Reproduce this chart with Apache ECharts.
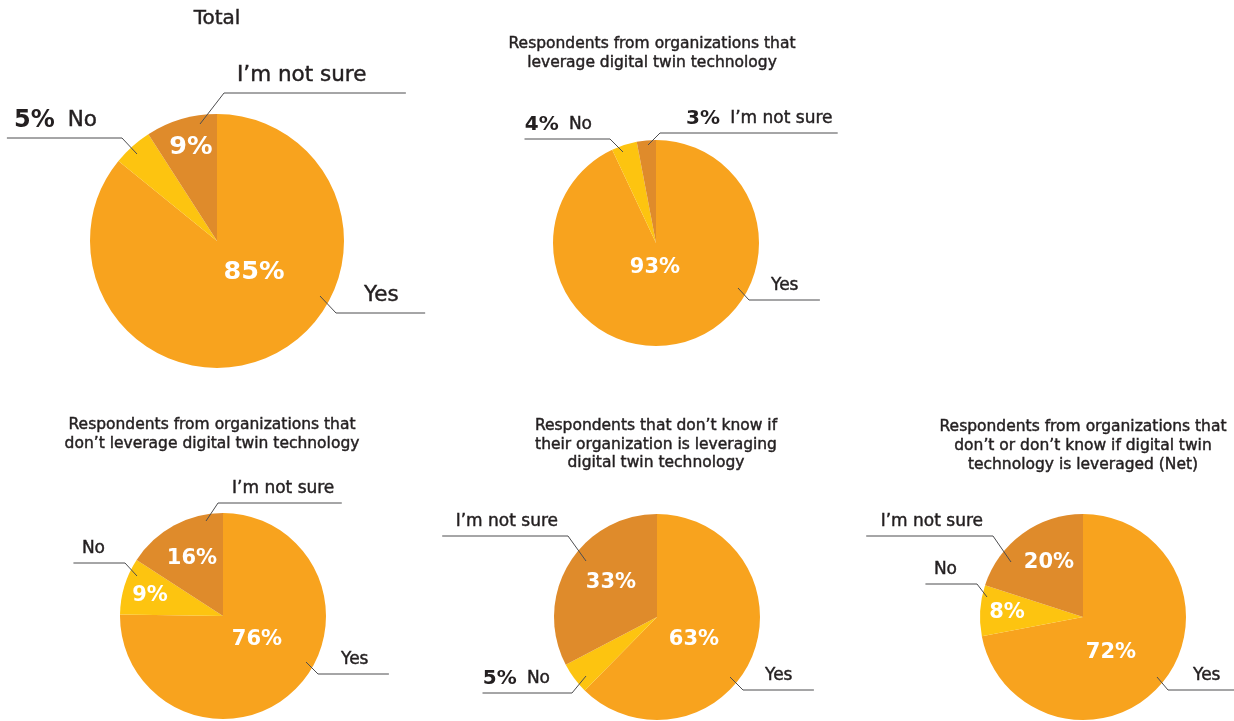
<!DOCTYPE html>
<html><head><meta charset="utf-8">
<script src="https://cdn.jsdelivr.net/npm/echarts@6/dist/echarts.min.js"></script>
<style>html,body{margin:0;padding:0;background:#fff}#c{width:1234px;height:721px}</style>
</head><body><div id="c"></div>
<script>
// ---- data ----
const categories = ['Yes', 'No', 'I’m not sure'];
const panelTitles = [
  'Total',
  'Respondents from organizations that\nleverage digital twin technology',
  'Respondents from organizations that\ndon’t leverage digital twin technology',
  'Respondents that don’t know if\ntheir organization is leveraging\ndigital twin technology',
  'Respondents from organizations that\ndon’t or don’t know if digital twin\ntechnology is leveraged (Net)'
];
const totalValues = [85, 5, 9];
const leverageValues = [93, 4, 3];
const dontLeverageValues = [76, 9, 16];
const dontKnowValues = [63, 5, 33];
const netValues = [72, 8, 20];
const panelValues = [totalValues, leverageValues, dontLeverageValues, dontKnowValues, netValues];

// ---- styles / layout ----
const colors = ['#F8A31E', '#FDC410', '#DF8B2B'];
const FONT = 'DejaVu Sans';
const TEXT = '#231F20';
const LINE = '#4D4D4F';
const EMB = 0.45; // slight emboldening to mimic a medium weight

const panels = [
  { center: [217, 241], r: 127, title: { x: 217, y: 8, size: 20, lh: 22 }, nameSize: 21.5, pctSize: 24, innerSize: 25.5, lift: 17.5,
    inner: [[37, 31], null, [-26, -94]],
    outer: [
      { start: [103, 55], elbow: [119, 72], side: 1, gap: 28, tail: 26 },
      { start: [-80, -87], elbow: [-95, -103], side: -1, gap: 25, tail: 7, pct: true },
      { start: [-17, -117], elbow: [7, -148], side: 1, gap: 13, tail: 39 }
    ] },
  { center: [656, 243], r: 103, title: { x: 652, y: 35, size: 15.5, lh: 18.5 }, nameSize: 17, pctSize: 20, innerSize: 21, lift: 14,
    inner: [[-1, 25], null, null],
    outer: [
      { start: [82, 45], elbow: [93, 57], side: 1, gap: 22, tail: 21 },
      { start: [-33, -91], elbow: [-46, -104], side: -1, gap: 18, tail: 0, pct: true },
      { start: [-8, -98], elbow: [4, -110], side: 1, gap: 26, tail: 5, pct: true }
    ] },
  { center: [223, 616], r: 103, title: { x: 212, y: 416, size: 15.5, lh: 18.5 }, nameSize: 17, pctSize: 20, innerSize: 21, lift: 14,
    inner: [[34, 24], [-73, -20], [-31, -57]],
    outer: [
      { start: [83, 46], elbow: [95, 58], side: 1, gap: 23, tail: 20 },
      { start: [-86, -40], elbow: [-98, -53], side: -1, gap: 20, tail: 8 },
      { start: [-17, -95], elbow: [-5, -113], side: 1, gap: 14, tail: 7 }
    ] },
  { center: [657, 617], r: 103, title: { x: 656, y: 417, size: 15.5, lh: 18.5 }, nameSize: 17, pctSize: 20, innerSize: 21, lift: 14,
    inner: [[37, 23], null, [-46, -34]],
    outer: [
      { start: [73, 60], elbow: [86, 73], side: 1, gap: 22, tail: 21 },
      { start: [-71, 59], elbow: [-85, 76], side: -1, gap: 22, tail: 0, pct: true },
      { start: [-71, -56], elbow: [-89, -81], side: -1, gap: 10, tail: 13 }
    ] },
  { center: [1083, 617], r: 103, title: { x: 1083, y: 417, size: 15.5, lh: 19 }, nameSize: 17, pctSize: 20, innerSize: 21, lift: 14,
    inner: [[28, 36], [-76, -4], [-34, -54]],
    outer: [
      { start: [74, 60], elbow: [85, 73], side: 1, gap: 25, tail: 20 },
      { start: [-96, -20], elbow: [-106, -33], side: -1, gap: 20, tail: 8 },
      { start: [-72, -55], elbow: [-90, -81], side: -1, gap: 10, tail: 14 }
    ] }
];

const titles = [];
const series = [];

panels.forEach(function (p, pi) {
  const vals = panelValues[pi];
  titles.push({
    text: panelTitles[pi], left: p.title.x, top: p.title.y, textAlign: 'center', padding: 0,
    textStyle: { fontFamily: FONT, fontSize: p.title.size, fontWeight: 'normal', color: TEXT, lineHeight: p.title.lh,
      textBorderColor: TEXT, textBorderWidth: EMB }
  });
  // slices + inner percentage labels
  series.push({
    type: 'pie', center: p.center, radius: p.r, silent: true, animation: false, z: 2,
    startAngle: 90, clockwise: true, avoidLabelOverlap: false,
    itemStyle: { borderWidth: 0 },
    label: {
      position: 'inside', color: '#fff', fontFamily: FONT, fontWeight: 'bold', fontSize: p.innerSize,
      formatter: function (d) { return d.value + '%'; }
    },
    labelLine: { show: false },
    labelLayout: function (params) {
      const o = p.inner[params.dataIndex];
      if (!o) return {};
      return { x: p.center[0] + o[0], y: p.center[1] + o[1], align: 'center', verticalAlign: 'middle' };
    },
    data: vals.map(function (v, i) {
      return { value: v, name: categories[i], itemStyle: { color: colors[i] }, label: { show: !!p.inner[i] } };
    })
  });
  // outer name labels with leader lines
  series.push({
    type: 'pie', center: p.center, radius: p.r, silent: true, animation: false, z: 5,
    startAngle: 90, clockwise: true, avoidLabelOverlap: false,
    itemStyle: { color: 'rgba(0,0,0,0)', borderWidth: 0 },
    label: {
      position: 'outside', color: TEXT, fontFamily: FONT,
      formatter: function (d) {
        const o = p.outer[d.dataIndex];
        return o.pct ? '{p|' + d.value + '%}{n|' + d.name + '}' : '{m|' + d.name + '}';
      },
      rich: {
        p: { fontFamily: FONT, fontWeight: 'bold', fontSize: p.pctSize, color: TEXT },
        n: { fontFamily: FONT, fontWeight: 'normal', fontSize: p.nameSize, color: TEXT, padding: [0, 0, 0, p.nameSize * 0.6],
             textBorderColor: TEXT, textBorderWidth: EMB },
        m: { fontFamily: FONT, fontWeight: 'normal', fontSize: p.nameSize, color: TEXT,
             textBorderColor: TEXT, textBorderWidth: EMB }
      }
    },
    labelLine: { show: true, length: 10, length2: 10, smooth: false, lineStyle: { color: LINE, width: 1 } },
    labelLayout: function (params) {
      const o = p.outer[params.dataIndex];
      const cx = p.center[0], cy = p.center[1];
      const sx = cx + o.start[0], sy = cy + o.start[1];
      const ex = cx + o.elbow[0], ey = cy + o.elbow[1];
      const w = params.labelRect.width;
      const tx = ex + o.side * o.gap;
      const endX = tx + o.side * (w + o.tail);
      return {
        x: tx, y: ey - p.lift, align: o.side > 0 ? 'left' : 'right', verticalAlign: 'middle',
        labelLinePoints: [[sx, sy], [ex, ey], [endX, ey]]
      };
    },
    data: vals.map(function (v, i) { return { value: v, name: categories[i] }; })
  });
});

const chart = echarts.init(document.getElementById('c'), null, { renderer: 'canvas' });
chart.setOption({ backgroundColor: '#fff', animation: false, title: titles, series: series });
</script>
</body></html>
